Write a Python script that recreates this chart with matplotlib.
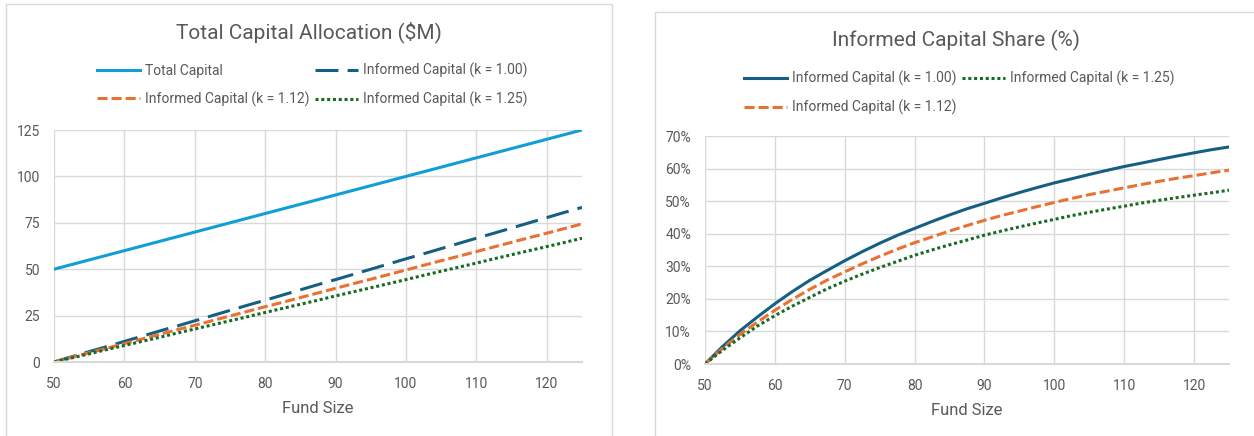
import matplotlib
matplotlib.use("Agg")
import matplotlib.pyplot as plt
from matplotlib.patches import Rectangle
from matplotlib.ticker import FuncFormatter
import numpy as np

# values (every 2.5 of fund size)
fund_size = [50, 52.5, 55, 57.5, 60, 62.5, 65, 67.5, 70, 72.5, 75, 77.5, 80, 82.5, 85, 87.5,
             90, 92.5, 95, 97.5, 100, 102.5, 105, 107.5, 110, 112.5, 115, 117.5, 120, 122.5, 125]
total_capital = [50, 52.5, 55, 57.5, 60, 62.5, 65, 67.5, 70, 72.5, 75, 77.5, 80, 82.5, 85, 87.5,
                 90, 92.5, 95, 97.5, 100, 102.5, 105, 107.5, 110, 112.5, 115, 117.5, 120, 122.5, 125]
informed_k100 = [0, 2.8, 5.6, 8.3, 11.1, 13.9, 16.7, 19.4, 22.2, 25.0, 27.8, 30.6, 33.3, 36.1, 38.9, 41.7,
                 44.4, 47.2, 50.0, 52.8, 55.6, 58.3, 61.1, 63.9, 66.7, 69.4, 72.2, 75.0, 77.8, 80.6, 83.3]
informed_k112 = [0, 2.5, 5.0, 7.4, 9.9, 12.4, 14.9, 17.4, 19.8, 22.3, 24.8, 27.3, 29.8, 32.2, 34.7, 37.2,
                 39.7, 42.2, 44.6, 47.1, 49.6, 52.1, 54.6, 57.0, 59.5, 62.0, 64.5, 67.0, 69.4, 71.9, 74.4]
informed_k125 = [0, 2.2, 4.4, 6.7, 8.9, 11.1, 13.3, 15.6, 17.8, 20.0, 22.2, 24.4, 26.7, 28.9, 31.1, 33.3,
                 35.6, 37.8, 40.0, 42.2, 44.4, 46.7, 48.9, 51.1, 53.3, 55.6, 57.8, 60.0, 62.2, 64.4, 66.7]

# share of informed capital, in percent
share_k100 = np.array(informed_k100) / np.array(total_capital) * 100
share_k112 = np.array(informed_k112) / np.array(total_capital) * 100
share_k125 = np.array(informed_k125) / np.array(total_capital) * 100

x_ticks = [50, 60, 70, 80, 90, 100, 110, 120]
left_y_ticks = [0, 25, 50, 75, 100, 125]
right_y_ticks = [0, 10, 20, 30, 40, 50, 60, 70]

plt.rcParams['font.family'] = ['Roboto', 'DejaVu Sans']

c_total = '#0F9ED5'
c_k100 = '#156082'
c_k112 = '#E97132'
c_k125 = '#196B24'
grey_txt = '#595959'
grid_c = '#D9D9D9'

W, H = 1254, 436
fig = plt.figure(figsize=(W / 100, H / 100), dpi=100)
fig.patch.set_facecolor('white')

# chart frames
fig.patches.append(Rectangle((6 / W, -0.05), 606 / W, 1 - 4 / H + 0.05, transform=fig.transFigure,
                             fill=False, edgecolor=grid_c, lw=1))
fig.patches.append(Rectangle((655 / W, -0.05), 0.5, 1 - 12 / H + 0.05, transform=fig.transFigure,
                             fill=False, edgecolor=grid_c, lw=1))

ax1 = fig.add_axes([54 / W, (H - 362) / H, 528 / W, 232 / H])
ax2 = fig.add_axes([705 / W, (H - 364) / H, 524 / W, 228 / H])

lw = 2.2
dash_long = (0, (7.5, 3))
dash_short = (0, (3.3, 1.3))
dots = (0, (1, 0.9))

l_total, = ax1.plot(fund_size, total_capital, color=c_total, lw=lw, label='Total Capital')
l_100, = ax1.plot(fund_size, informed_k100, color=c_k100, lw=lw, ls=dash_long,
                  label='Informed Capital (k = 1.00)')
l_112, = ax1.plot(fund_size, informed_k112, color=c_k112, lw=lw, ls=dash_short,
                  label='Informed Capital (k = 1.12)')
l_125, = ax1.plot(fund_size, informed_k125, color=c_k125, lw=lw, ls=dots,
                  label='Informed Capital (k = 1.25)')

r_100, = ax2.plot(fund_size, share_k100, color=c_k100, lw=lw, label='Informed Capital (k = 1.00)')
r_112, = ax2.plot(fund_size, share_k112, color=c_k112, lw=lw, ls=dash_short,
                  label='Informed Capital (k = 1.12)')
r_125, = ax2.plot(fund_size, share_k125, color=c_k125, lw=lw, ls=dots,
                  label='Informed Capital (k = 1.25)')

for ax, yt in ((ax1, left_y_ticks), (ax2, right_y_ticks)):
    ax.set_xlim(50, 125)
    ax.set_ylim(yt[0], yt[-1])
    ax.set_xticks(x_ticks)
    ax.set_yticks(yt)
    ax.grid(True, color=grid_c, lw=1)
    ax.set_axisbelow(True)
    for s in ('top', 'right', 'left'):
        ax.spines[s].set_visible(False)
    ax.spines['bottom'].set_color(grid_c)
    ax.spines['bottom'].set_linewidth(1.5)
    ax.tick_params(length=0, labelsize=10, colors=grey_txt)
    ax.tick_params(axis='y', pad=10)
    ax.tick_params(axis='x', pad=11)
    ax.set_xlabel('Fund Size', fontsize=12, color=grey_txt, labelpad=7)

ax2.yaxis.set_major_formatter(FuncFormatter(lambda v, p: '%d%%' % v))

fig.text(309 / W, 1 - 32 / H, 'Total Capital Allocation ($M)', ha='center', va='center',
         fontsize=15, color=grey_txt)
fig.text(956 / W, 1 - 40 / H, 'Informed Capital Share (%)', ha='center', va='center',
         fontsize=15, color=grey_txt)

leg_kw = dict(ncol=2, frameon=False, fontsize=10, handlelength=3.1, handletextpad=0.35,
              columnspacing=0.4, labelspacing=0.95, labelcolor=grey_txt, borderpad=0)
fig.legend([l_total, l_112, l_100, l_125], [h.get_label() for h in (l_total, l_112, l_100, l_125)],
           loc='center', bbox_to_anchor=(312 / W, 1 - 85 / H), **leg_kw)
fig.legend([r_100, r_112, r_125], [h.get_label() for h in (r_100, r_112, r_125)],
           loc='center', bbox_to_anchor=(959 / W, 1 - 93 / H), **leg_kw)

fig.savefig('out.png', dpi=100, facecolor='white')
